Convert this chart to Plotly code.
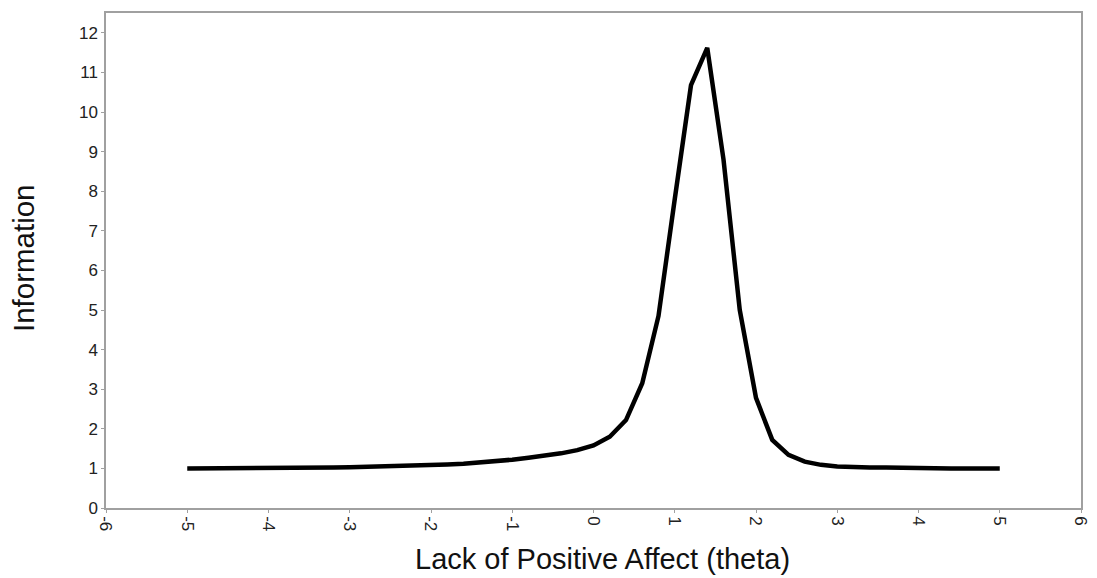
import plotly.graph_objects as go

theta = [-5.0, -4.8, -4.6, -4.4, -4.2, -4.0, -3.8, -3.6, -3.4, -3.2,
         -3.0, -2.8, -2.6, -2.4, -2.2, -2.0, -1.8, -1.6, -1.4, -1.2,
         -1.0, -0.8, -0.6, -0.4, -0.2, 0.0, 0.2, 0.4, 0.6, 0.8,
         1.0, 1.2, 1.4, 1.6, 1.8, 2.0, 2.2, 2.4, 2.6, 2.8,
         3.0, 3.2, 3.4, 3.6, 3.8, 4.0, 4.2, 4.4, 4.6, 4.8, 5.0]
information = [1.00, 1.00, 1.00, 1.00, 1.00, 1.01, 1.01, 1.01, 1.02, 1.02,
               1.03, 1.04, 1.05, 1.05, 1.07, 1.08, 1.10, 1.12, 1.15, 1.18,
               1.22, 1.27, 1.32, 1.38, 1.46, 1.58, 1.80, 2.22, 3.15, 4.85,
               7.80, 10.68, 11.62, 8.80, 5.00, 2.78, 1.72, 1.34, 1.17, 1.09,
               1.05, 1.03, 1.02, 1.02, 1.01, 1.01, 1.01, 1.00, 1.00, 1.00, 1.00]

x_ticks = [-6, -5, -4, -3, -2, -1, 0, 1, 2, 3, 4, 5, 6]
y_ticks = [0, 1, 2, 3, 4, 5, 6, 7, 8, 9, 10, 11, 12]

FONT = "Liberation Sans, Arial, sans-serif"

fig = go.Figure()
fig.add_trace(go.Scatter(
    x=theta, y=information, mode="lines",
    line=dict(color="black", width=4.5),
    showlegend=False, hoverinfo="x+y",
))

axis_common = dict(
    showgrid=False, zeroline=False, automargin=False,
    showline=True, linecolor="#a0a0a0", linewidth=1.5, mirror=True,
    ticks="outside", ticklen=3, tickcolor="#a0a0a0", tickwidth=1,
    tickfont=dict(family=FONT, size=17, color="#222222"),
)

fig.update_layout(
    width=1097, height=578,
    margin=dict(l=98, r=24, t=5, b=78),
    paper_bgcolor="white", plot_bgcolor="white",
    xaxis=dict(
        range=[-6, 6], tickvals=x_ticks, ticktext=[str(v) for v in x_ticks],
        tickangle=90,
        **axis_common,
    ),
    yaxis=dict(
        range=[0, 12.5], tickvals=y_ticks, ticktext=[str(v) for v in y_ticks],
        **axis_common,
    ),
    annotations=[
        dict(text="Lack of Positive Affect (theta)", x=0.5097, y=-0.104,
             xref="paper", yref="paper", xanchor="center", yanchor="middle",
             showarrow=False,
             font=dict(family=FONT, size=29, color="#111111")),
        dict(text="Information", x=-0.0851, y=0.505, textangle=-90,
             xref="paper", yref="paper", xanchor="center", yanchor="middle",
             showarrow=False,
             font=dict(family=FONT, size=29.5, color="#111111")),
    ],
)

fig.write_html("out.html")
